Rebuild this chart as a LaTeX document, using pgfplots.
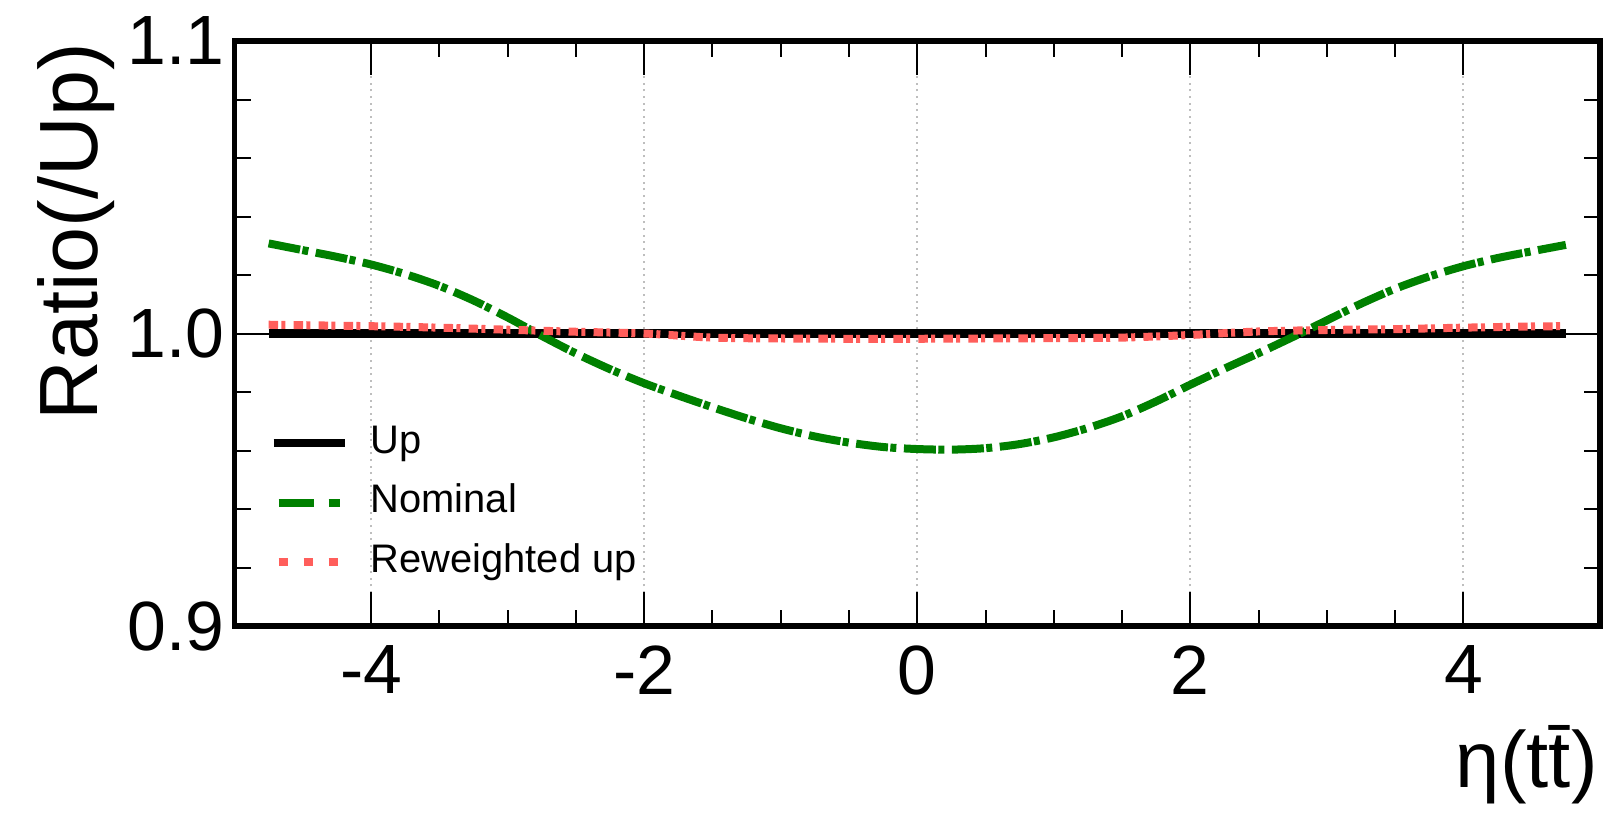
\documentclass[border=0pt]{standalone}
\usepackage{fontspec}
\setmainfont{Liberation Sans}
\usepackage{pgfplots}
\pgfplotsset{compat=1.18}
\definecolor{rwred}{RGB}{255,94,91}
\definecolor{nomgreen}{RGB}{0,128,0}
\definecolor{gridgray}{RGB}{190,190,190}
\pgfplotsset{
  upleg/.style={legend image code/.code={\draw[##1] (0bp,0bp) -- (35.5bp,0bp);}},
  nomleg/.style={legend image code/.code={\draw[##1, dash pattern=on 17.5bp off 7.5bp on 5.5bp off 10bp] (2.5bp,0bp) -- (35.5bp,0bp);}},
  rwleg/.style={legend image code/.code={\draw[##1, dash pattern=on 4.5bp off 8bp] (2.5bp,0bp) -- (35.5bp,0bp);}},
}
\begin{document}
\begin{tikzpicture}
\begin{axis}[name=ax, scale only axis, width=682.75bp, height=292.5bp,
  xmin=-5, xmax=5, ymin=0.9, ymax=1.1,
  xtick={-4,-2,0,2,4}, xticklabels={-4,-2,0,2,4},
  minor x tick num=3,
  ytick={0.9,1.0,1.1}, yticklabels={0.9,1.0,1.1},
  minor y tick num=4,
  tick align=inside,
  major tick length=17bp, minor tick length=8bp,
  every tick/.style={black, line width=1bp},
  axis line style={line width=2.75bp, line cap=rect},
  xmajorgrids,
  major grid style={gridgray, line width=1bp, dash pattern=on 1bp off 2.3bp},
  ticklabel style={font=\fontsize{35}{42}\selectfont, inner sep=0pt},
  xticklabel style={yshift=-9.5bp},
  yticklabel style={xshift=-4.75bp},
  xlabel={η(t\={t})},
  ylabel={Ratio(/Up)},
  xlabel style={at={(axis description cs:0.9985,-0.2769)}, anchor=base east, font=\fontsize{40}{48}\selectfont, inner sep=0pt},
  ylabel style={at={(axis description cs:-0.1,0.9966)}, anchor=base east, font=\fontsize{41.5}{50}\selectfont, inner sep=0pt},
  legend style={draw=none, fill=none, at={(axis description cs:0.0255,0.347)}, anchor=north west,
    inner sep=0pt, outer sep=0pt, font=\fontsize{20}{24}\selectfont, row sep=9.75bp, column sep=11bp,
    nodes={inner sep=0pt, text height=15bp, text depth=5bp}},
  legend cell align=left,
]
\addplot[black, line width=1bp, forget plot] coordinates {(-5,1) (5,1)};
\addplot[black, line width=4.25bp, line cap=butt, upleg]
  coordinates {(-4.75,1) (4.75,1)};
\addlegendentry{Up}
\addplot[nomgreen, line width=4bp, line cap=butt, smooth,
  dash pattern=on 16bp off 1.2bp on 3bp off 3.8bp, nomleg]
  coordinates {
(-4.75,1.0308) (-4.5,1.0285) (-4.25,1.0262) (-4.0,1.0236) (-3.75,1.0203) (-3.5,1.0163)
(-3.25,1.0113) (-3.0,1.0055) (-2.75,0.9992) (-2.5,0.9932) (-2.25,0.9878) (-2.0,0.9830)
(-1.75,0.9788) (-1.5,0.9748) (-1.25,0.9710) (-1.0,0.9676) (-0.75,0.9648) (-0.5,0.9627)
(-0.25,0.9612) (0.0,0.9605) (0.25,0.9603) (0.5,0.9608) (0.75,0.9622) (1.0,0.9645)
(1.25,0.9677) (1.5,0.9717) (1.75,0.9768) (2.0,0.9825) (2.25,0.9880) (2.5,0.9933)
(2.75,0.9988) (3.0,1.0045) (3.25,1.0102) (3.5,1.0153) (3.75,1.0195) (4.0,1.0230)
(4.25,1.0258) (4.5,1.0281) (4.75,1.0303)
  };
\addlegendentry{Nominal}
\addplot[rwred, line width=4bp, line cap=butt, smooth,
  dash pattern=on 4.7bp off 1.7bp on 2bp off 4.1bp, rwleg]
  coordinates {
(-4.75,1.0030) (-4.0,1.0025) (-3.5,1.0020) (-3.0,1.0013) (-2.5,1.0006) (-2.0,1.0000)
(-1.5,0.9986) (-1.0,0.9983) (-0.5,0.9982) (0,0.9982) (0.5,0.9983) (1.0,0.9984)
(1.5,0.9986) (2.0,0.9995) (2.5,1.0007) (3.0,1.0012) (3.5,1.0015) (4.0,1.0020)
(4.5,1.0024) (4.75,1.0025)
  };
\addlegendentry{Reweighted up}
\end{axis}
\pgfresetboundingbox
\path[use as bounding box] ([xshift=-117.25bp,yshift=-93.5bp]ax.south west) rectangle ([xshift=4bp,yshift=20.5bp]ax.north east);
\end{tikzpicture}
\end{document}
